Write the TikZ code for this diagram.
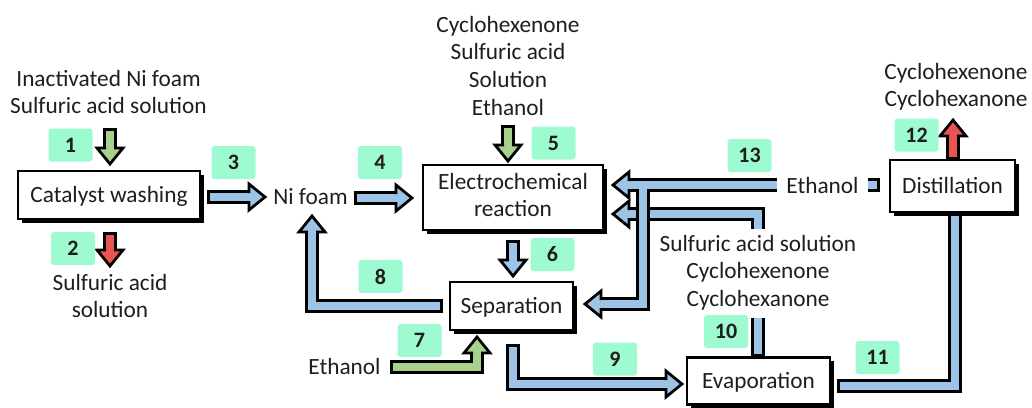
\documentclass[tikz,border=0pt]{standalone}
\usepackage{fontspec}
\setmainfont{Carlito}
\usetikzlibrary{calc,shadows}
\definecolor{arrblue}{RGB}{157,195,230}
\definecolor{arrgreen}{RGB}{169,209,142}
\definecolor{arrred}{RGB}{234,84,80}
\definecolor{mint}{RGB}{158,250,208}
\definecolor{ink}{RGB}{30,30,30}
\pgfdeclarelayer{bg}
\pgfsetlayers{bg,main}
\newcommand\fatline[2]{%
  \draw[line width=13.5pt, black, line join=miter] #2;
  \draw[line width=8pt, #1, line join=miter, shorten <=2.75pt] #2;}
\newcommand\fathead[3]{%
  \begin{scope}[shift={#2}, rotate=#3]
    \filldraw[fill=#1, draw=black, line width=2.75pt, line join=miter]
      (-16,4) -- (-16,13) -- (0,0) -- (-16,-13) -- (-16,-4);
  \end{scope}}
\newcommand\lines[1]{\begin{tabular}[t]{@{}c@{}}#1\end{tabular}}
\begin{document}
\begin{tikzpicture}[x=1pt,y=-1pt,
  txt/.style={font=\fontsize{23.3}{27.7}\selectfont, text=ink, inner sep=0pt, anchor=base},
  procbox/.style={draw=black, line width=2.3pt, fill=white, inner sep=0pt,
    font=\fontsize{23.3}{27.7}\selectfont, text=ink,
    general shadow={shadow xshift=3.8pt, shadow yshift=-3.8pt, fill=black}},
  oneline/.style={text height=15pt, text depth=0pt},
  num/.style={fill=mint, rounded corners=3pt, minimum width=44pt, minimum height=33pt,
    inner sep=0pt, font=\bfseries\fontsize{22}{22}\selectfont, text=ink},
]
\useasboundingbox (0,0) rectangle (1032,407);

% process boxes
\node[procbox, oneline, minimum width=182pt, minimum height=48pt] (cw) at (109,195) {Catalyst washing};
\node[procbox, minimum width=180pt, minimum height=65pt] (er) at (513,197.5) {\lines{Electrochemical\\reaction}};
\node[procbox, oneline, minimum width=123pt, minimum height=48pt] (sep) at (511.5,306) {Separation};
\node[procbox, oneline, minimum width=143pt, minimum height=47pt] (ev) at (758.5,381) {Evaporation};
\node[procbox, oneline, minimum width=125pt, minimum height=52pt] (di) at (952.5,186) {Distillation};

% stream texts
\node[txt] (in1) at (108.5,86) {\lines{Inactivated Ni foam\\Sulfuric acid solution}};
\node[txt] (out2) at (110,290) {\lines{Sulfuric acid\\solution}};
\node[txt] (ni) at (310.5,204) {Ni foam};
\node[txt] (in5) at (508,32) {\lines{Cyclohexenone\\Sulfuric acid\\Solution\\Ethanol}};
\node[txt] (eth7) at (344.5,374) {Ethanol};
\node[txt, fill=white, inner xsep=9pt, inner ysep=8pt] (eth13) at (822.5,193) {Ethanol};
\node[txt, fill=white, inner sep=3pt] (mix10) at (758,251) {\lines{Sulfuric acid solution\\Cyclohexenone\\Cyclohexanone}};
\node[txt] (out12) at (956,79) {\lines{Cyclohexenone\\Cyclohexanone}};

% number labels
\node[num] (n1) at (70.5,145) {1};
\node[num] (n2) at (73,248.5) {2};
\node[num] (n3) at (233.5,162.5) {3};
\node[num] (n4) at (380,162.5) {4};
\node[num] (n5) at (553.5,143) {5};
\node[num] (n6) at (552.5,254.5) {6};
\node[num] (n7) at (419.5,340.5) {7};
\node[num] (n8) at (380.5,276.5) {8};
\node[num] (n9) at (615,359) {9};
\node[num] (n10) at (726,331.5) {10};
\node[num] (n11) at (877.5,357.5) {11};
\node[num] (n12) at (916.5,135) {12};
\node[num] (n13) at (749.5,155.5) {13};

\begin{pgfonlayer}{bg}
% 1
\fatline{arrgreen}{(110,128) -- (110,148)}
\fathead{arrgreen}{(110,164)}{-90}
% 2
\fatline{arrred}{(110,232) -- (110,250)}
\fathead{arrred}{(110,266)}{-90}
% 3
\fatline{arrblue}{(207,197) -- (249,197)}
\fathead{arrblue}{(265,197)}{0}
% 4
\fatline{arrblue}{(354,198) -- (396,198)}
\fathead{arrblue}{(412,198)}{0}
% 5
\fatline{arrgreen}{(508,125) -- (508,145)}
\fathead{arrgreen}{(508,161)}{-90}
% 6
\fatline{arrblue}{(513,240) -- (513,260)}
\fathead{arrblue}{(513,276)}{-90}
% 7
\fatline{arrgreen}{(390,367) -- (477,367) -- (477,353)}
\fathead{arrgreen}{(477,337)}{90}
% 8
\fatline{arrblue}{(443,306) -- (312,306) -- (312,232)}
\fathead{arrblue}{(312,216)}{90}
% 9
\fatline{arrblue}{(513,344) -- (513,384) -- (666,384)}
\fathead{arrblue}{(682,384)}{0}
% 10
\fatline{arrblue}{(758,357) -- (758,214) -- (629,214)}
\fathead{arrblue}{(613,214)}{180}
% 11
\fatline{arrblue}{(837,386) -- (955,386) -- (955,212)}
% 12
\fatline{arrred}{(953,160) -- (953,136)}
\fathead{arrred}{(953,120)}{90}
% 13 with branch
\draw[line width=13.5pt, black, line join=miter] (880,185) -- (629,185);
\draw[line width=13.5pt, black, line join=miter] (643,185) -- (643,304) -- (601,304);
\draw[line width=8pt, arrblue, line join=miter, shorten <=2.75pt] (880,185) -- (629,185);
\draw[line width=8pt, arrblue, line join=miter] (643,185) -- (643,304) -- (601,304);
\fathead{arrblue}{(613,185)}{180}
\fathead{arrblue}{(585,304)}{180}
\end{pgfonlayer}
\end{tikzpicture}
\end{document}
